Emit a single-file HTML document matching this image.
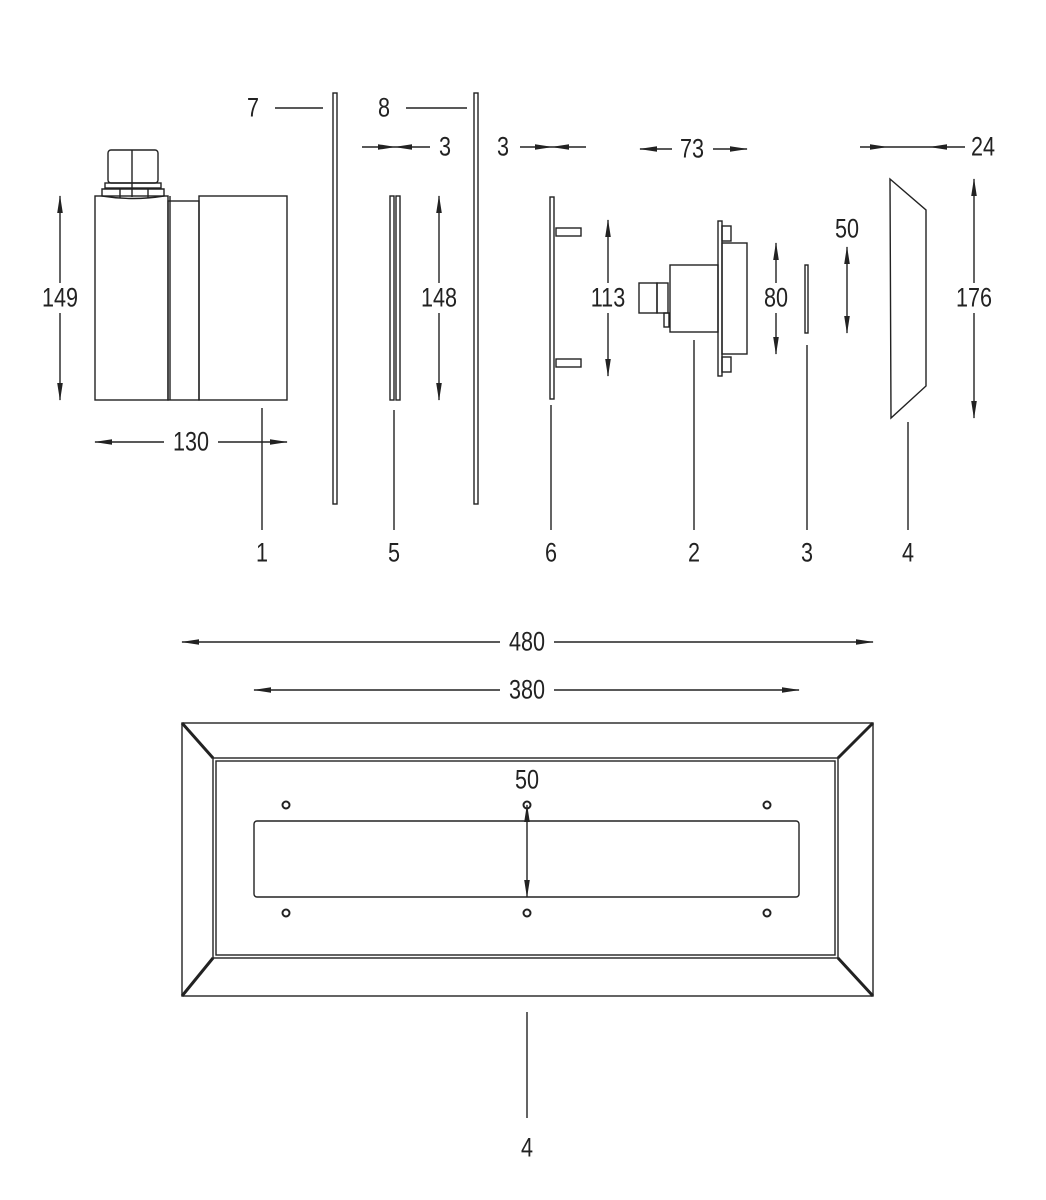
<!DOCTYPE html>
<html><head><meta charset="utf-8"><style>
html,body{margin:0;padding:0;background:#fff}
svg{display:block}
text{font-family:"Liberation Sans",sans-serif;font-size:27px;fill:#222;text-anchor:middle;dominant-baseline:central;transform-box:fill-box;transform-origin:center;transform:scaleX(.8)}
</style></head><body>
<svg width="1046" height="1200" viewBox="0 0 1046 1200" xmlns="http://www.w3.org/2000/svg">
<defs>
<marker id="a" markerWidth="18" markerHeight="8" refX="17" refY="4" orient="auto" markerUnits="userSpaceOnUse"><path d="M0,1.2 L18,4 L0,6.8 Z" fill="#222"/></marker>
<marker id="b" markerWidth="18" markerHeight="8" refX="1" refY="4" orient="auto" markerUnits="userSpaceOnUse"><path d="M18,1.2 L0,4 L18,6.8 Z" fill="#222"/></marker>
</defs>
<g stroke="#222" stroke-width="1.4" fill="none">
<!-- part 1 -->
<rect x="108" y="150" width="50" height="33" rx="3"/>
<line x1="132" y1="150" x2="132" y2="197"/>
<rect x="105" y="183" width="56" height="5"/>
<path d="M102,189 L164,189 L164,196 Q133,201 102,196 Z"/>
<line x1="120" y1="189" x2="120" y2="198"/><line x1="148" y1="189" x2="148" y2="198"/>
<rect x="95" y="196" width="73" height="204"/>
<rect x="168" y="201" width="31" height="199"/>
<line x1="170" y1="196" x2="170" y2="400"/>
<rect x="199" y="196" width="88" height="204"/>
<line x1="60" y1="283" x2="60" y2="196" marker-end="url(#a)"/>
<line x1="60" y1="313" x2="60" y2="400" marker-end="url(#a)"/>
<line x1="164" y1="442" x2="95" y2="442" marker-end="url(#a)"/>
<line x1="218" y1="442" x2="287" y2="442" marker-end="url(#a)"/>
<line x1="262" y1="408" x2="262" y2="530"/>
<!-- part 7 -->
<rect x="333" y="93" width="4" height="411"/>
<line x1="275" y1="108" x2="323" y2="108"/>
<!-- part 5 -->
<rect x="390" y="196" width="4" height="204"/><rect x="396" y="196" width="4" height="204"/>
<line x1="394" y1="410" x2="394" y2="530"/>
<line x1="362" y1="147" x2="395" y2="147" marker-end="url(#a)"/>
<line x1="430" y1="147" x2="395" y2="147" marker-end="url(#a)"/>
<!-- part 8 -->
<rect x="474" y="93" width="4" height="411"/>
<line x1="406" y1="108" x2="467" y2="108"/>
<line x1="439" y1="283" x2="439" y2="196" marker-end="url(#a)"/>
<line x1="439" y1="313" x2="439" y2="400" marker-end="url(#a)"/>
<line x1="520" y1="147" x2="552" y2="147" marker-end="url(#a)"/>
<line x1="586" y1="147" x2="552" y2="147" marker-end="url(#a)"/>
<!-- part 6 -->
<rect x="550" y="197" width="4" height="202"/>
<rect x="556" y="228" width="25" height="8"/><rect x="556" y="359" width="25" height="8"/>
<line x1="551" y1="405" x2="551" y2="530"/>
<line x1="608" y1="283" x2="608" y2="220" marker-end="url(#a)"/>
<line x1="608" y1="313" x2="608" y2="376" marker-end="url(#a)"/>
<!-- part 2 -->
<rect x="670" y="265" width="48" height="67"/>
<rect x="718" y="221" width="4" height="155"/>
<rect x="722" y="243" width="25" height="111"/>
<rect x="722" y="226" width="9" height="15"/><rect x="722" y="357" width="9" height="15"/>
<rect x="639" y="283" width="18" height="30"/><rect x="657" y="283" width="11" height="30"/>
<rect x="664" y="313" width="5" height="14"/>
<line x1="694" y1="340" x2="694" y2="530"/>
<line x1="672" y1="149" x2="640" y2="149" marker-end="url(#a)"/>
<line x1="713" y1="149" x2="747" y2="149" marker-end="url(#a)"/>
<line x1="776" y1="283" x2="776" y2="243" marker-end="url(#a)"/>
<line x1="776" y1="313" x2="776" y2="354" marker-end="url(#a)"/>
<!-- part 3 -->
<rect x="805" y="265" width="3" height="68"/>
<line x1="807" y1="345" x2="807" y2="530"/>
<line x1="847" y1="247" x2="847" y2="333" marker-start="url(#b)" marker-end="url(#a)"/>
<!-- part 4 side -->
<path d="M890,179 L926,210 L926,386 L891,418 Z"/>
<line x1="908" y1="422" x2="908" y2="530"/>
<line x1="860" y1="147" x2="887" y2="147" marker-end="url(#a)"/>
<line x1="887" y1="147" x2="930" y2="147"/>
<line x1="965" y1="147" x2="930" y2="147" marker-end="url(#a)"/>
<line x1="974" y1="283" x2="974" y2="179" marker-end="url(#a)"/>
<line x1="974" y1="313" x2="974" y2="418" marker-end="url(#a)"/>
<!-- bottom dims -->
<line x1="500" y1="642" x2="182" y2="642" marker-end="url(#a)"/>
<line x1="554" y1="642" x2="873" y2="642" marker-end="url(#a)"/>
<line x1="500" y1="690" x2="254" y2="690" marker-end="url(#a)"/>
<line x1="554" y1="690" x2="799" y2="690" marker-end="url(#a)"/>
<!-- frame -->
<rect x="182" y="723" width="691" height="273"/>
<rect x="213" y="758" width="625" height="200"/>
<rect x="216" y="761" width="619" height="194"/>
<g stroke-width="3"><line x1="182" y1="723" x2="213" y2="758"/><line x1="873" y1="723" x2="838" y2="758"/><line x1="182" y1="996" x2="213" y2="958"/><line x1="873" y1="996" x2="838" y2="958"/></g>
<rect x="254" y="821" width="545" height="76" rx="3"/>
<g stroke-width="2"><circle cx="286" cy="805" r="3.5"/><circle cx="527" cy="805" r="3.5"/><circle cx="767" cy="805" r="3.5"/><circle cx="286" cy="913" r="3.5"/><circle cx="527" cy="913" r="3.5"/><circle cx="767" cy="913" r="3.5"/></g>
<line x1="527" y1="805" x2="527" y2="897" marker-start="url(#b)" marker-end="url(#a)"/>
<line x1="527" y1="1012" x2="527" y2="1118"/>
</g>
<g>
<text x="60" y="298">149</text><text x="191" y="442">130</text><text x="262" y="553">1</text>
<text x="253" y="108">7</text><text x="384" y="108">8</text><text x="445" y="147">3</text>
<text x="439" y="298">148</text><text x="394" y="553">5</text>
<text x="503" y="147">3</text><text x="608" y="298">113</text><text x="551" y="553">6</text>
<text x="692" y="149">73</text><text x="776" y="298">80</text><text x="694" y="553">2</text>
<text x="847" y="229">50</text><text x="807" y="553">3</text>
<text x="983" y="147">24</text><text x="974" y="298">176</text><text x="908" y="553">4</text>
<text x="527" y="642">480</text><text x="527" y="690">380</text>
<text x="527" y="780">50</text><text x="527" y="1148">4</text>
</g>
</svg>
</body></html>
